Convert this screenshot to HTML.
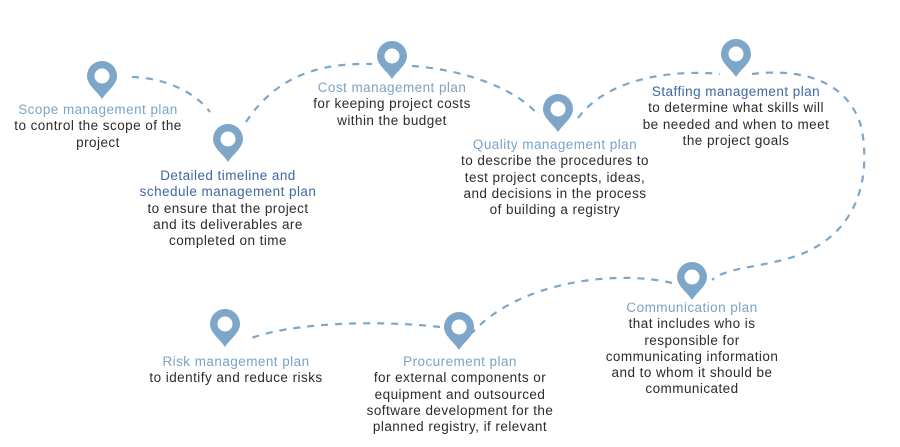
<!DOCTYPE html>
<html><head><meta charset="utf-8"><style>
body{margin:0;width:900px;height:447px;background:#fff;overflow:hidden;position:relative;font-family:"Liberation Sans",sans-serif}
.t{position:absolute;text-align:center;font-size:13.5px;letter-spacing:0.45px;line-height:16.3px;color:#2b2b2b;transform:translateX(-50%);white-space:nowrap}
.h{color:#7ba3c6}.d{color:#3e67a6}
</style></head><body>
<svg width="900" height="447" style="position:absolute;left:0;top:0">
<defs><g id="pin"><path d="M0,22 C-5,14 -15,8 -15,-1 A15,15 0 1 1 15,-1 C15,8 5,14 0,22Z" fill="#7ea6c8"/><circle cx="0" cy="-1" r="7.5" fill="#fff"/></g></defs>
<g fill="none" stroke="#7ea6c8" stroke-width="2.2" stroke-dasharray="7,7">
<path d="M132,77 C165,78 195,92 210,112"/>
<path d="M246,122 C280,70 330,63 372,64"/>
<path d="M412,66 C470,70 520,92 538,115"/>
<path d="M578,118 C610,75 680,70 720,74"/>
<path d="M752,74 C800,68 850,80 862,130 C872,190 850,240 790,258 C755,268 725,268 712,280"/>
<path d="M672,283 C620,270 520,280 472,333"/>
<path d="M440,327 C380,320 290,322 246,340"/>
</g>
<use href="#pin" x="102" y="77"/>
<use href="#pin" x="228" y="140"/>
<use href="#pin" x="392" y="57"/>
<use href="#pin" x="558" y="110"/>
<use href="#pin" x="736" y="55"/>
<use href="#pin" x="692" y="278"/>
<use href="#pin" x="459" y="328"/>
<use href="#pin" x="225" y="325"/>
</svg>
<div class="t" style="left:98px;top:102px"><span class="h">Scope management plan</span><br>to control the scope of the<br>project</div>
<div class="t" style="left:228px;top:168px"><span class="d">Detailed timeline and<br>schedule management plan</span><br>to ensure that the project<br>and its deliverables are<br>completed on time</div>
<div class="t" style="left:392px;top:80px"><span class="h">Cost management plan</span><br>for keeping project costs<br>within the budget</div>
<div class="t" style="left:555px;top:137px"><span class="h">Quality management plan</span><br>to describe the procedures to<br>test project concepts, ideas,<br>and decisions in the process<br>of building a registry</div>
<div class="t" style="left:736px;top:84px"><span class="d">Staffing management plan</span><br>to determine what skills will<br>be needed and when to meet<br>the project goals</div>
<div class="t" style="left:692px;top:300px"><span class="h">Communication plan</span><br>that includes who is<br>responsible for<br>communicating information<br>and to whom it should be<br>communicated</div>
<div class="t" style="left:236px;top:354px"><span class="h">Risk management plan</span><br>to identify and reduce risks</div>
<div class="t" style="left:460px;top:354px"><span class="h">Procurement plan</span><br>for external components or<br>equipment and outsourced<br>software development for the<br>planned registry, if relevant</div>
</body></html>
